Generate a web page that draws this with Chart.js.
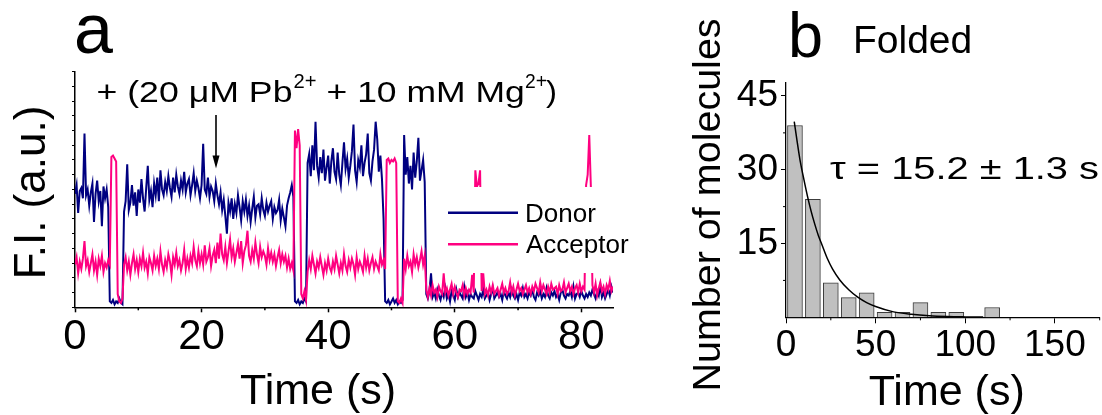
<!DOCTYPE html>
<html><head><meta charset="utf-8">
<script src="https://cdn.jsdelivr.net/npm/chart.js@4"></script>
<style>
html,body{margin:0;padding:0;background:#fff;}
#wrap{position:relative;width:1102px;height:415px;overflow:hidden;background:#fff;}
#ca{position:absolute;left:0;top:0;}
#cb{position:absolute;left:660px;top:0;}
</style></head><body>
<div id="wrap"><canvas id="ca" width="660" height="415"></canvas><canvas id="cb" width="442" height="415"></canvas></div>
<script>
// ---------- Panel a data (time trace, 0.25 s per sample) ----------
const dt = 0.25;
const donor = [
7.7,8.3,6.4,7.9, 8.1,7.4,11.8,7.6, 8.0,6.9,7.8,8.4, 5.8,7.7,8.6,7.2, 7.9,5.5,8.2,7.4,
8.0,6.8,0.4,0.3, 0.5,0.2,0.4,0.3, 0.6,0.3,0.2,6.5, 7.2,9.7,6.6,7.1, 8.3,6.9,7.8,6.2,
8.0,7.1,8.7,7.4, 6.5,8.1,9.6,7.3, 7.9,6.8,8.4,7.6, 8.8,7.2,9.3,8.0, 7.6,8.5,7.9,8.9,
8.1,7.5,8.8,7.8, 9.0,8.2,7.7,8.6, 8.0,9.2,7.8,8.4, 8.7,7.6,8.3,9.1, 7.9,8.6,8.1,7.4,
8.3,11.1,8.0,7.7, 8.8,7.5,8.2,7.9, 7.2,8.4,7.6,7.0, 7.8,6.6,7.3,6.2, 5.0,7.1,6.5,7.4,
6.0,7.0,6.4,7.6, 6.8,5.9,7.2,6.5, 7.3,6.2,6.9,5.8, 6.7,7.5,6.1,6.9, 7.0,6.3,7.4,6.6,
6.2,7.1,6.5,6.9, 7.2,6.0,6.8,6.4, 6.6,7.3,5.9,6.7, 6.1,5.5,6.9,7.4, 7.8,8.3,7.5,0.4,
0.3,0.5,0.2,0.4, 0.3,0.6,0.4,9.8, 10.4,8.9,11.0,9.3, 12.6,9.6,8.8,10.2, 9.1,10.7,8.6,9.5,
10.3,8.4,9.9,10.8, 9.2,8.7,10.5,9.0, 8.3,9.8,11.2,9.4, 10.1,8.8,9.6,10.6, 12.4,9.3,8.5,10.0,
9.5,11.0,8.9,9.8, 10.4,11.8,9.1,8.6, 9.9,10.7,12.6,11.4, 9.2,10.3,8.7,6.0, 0.4,0.3,0.5,0.2,
0.4,0.6,0.3,0.5, 0.2,0.4,0.3,0.5, 11.7,9.0,10.2,8.4, 9.6,8.0,10.5,8.8, 9.9,11.5,8.6,9.3,
10.0,8.5,0.9,0.6, 1.1,2.3,0.7,1.0, 0.6,1.2,0.8,0.5, 1.0,0.7,1.3,0.6, 0.9,0.4,1.1,0.8,
0.5,1.2,0.7,1.0, 0.8,0.6,1.4,0.7, 1.0,0.5,0.9,0.7, 0.6,1.1,0.8,0.5, 0.9,0.7,1.2,0.6,
0.8,1.0,0.5,0.9, 1.3,0.6,0.8,1.0, 0.7,0.9,0.5,1.1, 0.8,0.6,1.0,0.7, 1.2,0.8,0.6,0.9,
0.5,1.0,0.8,1.3, 0.7,0.9,0.6,1.0, 0.8,1.2,0.7,0.5, 1.0,0.8,1.1,0.6, 0.9,0.7,1.3,0.8,
0.6,1.0,0.8,1.1, 0.7,0.9,0.5,1.0, 1.2,0.8,0.6,0.9, 0.8,1.1,0.7,1.4, 0.6,0.9,1.0,0.7,
1.1,0.8,0.6,0.9, 0.7,1.0,0.8,1.2, 0.9,0.6,1.1,0.8, 1.5,0.7,1.0,0.6, 0.9,1.2,0.8,1.4,
1.0];
const acceptor = [
2.9,3.4,2.3,3.1, 2.6,3.3,4.5,2.8, 3.2,2.4,3.0,3.6, 2.5,3.1,2.2,3.3, 2.8,3.5,2.4,3.0,
2.7,3.2,2.9,10.2, 10.3,10.1,9.9,0.9, 0.4,0.3,0.6,2.9, 3.4,2.5,3.1,2.2, 3.0,3.6,2.6,3.2,
2.4,3.3,2.8,3.7, 2.7,3.1,2.3,3.4, 3.0,2.5,3.5,2.8, 3.3,2.6,3.8,2.9, 2.4,3.2,2.7,3.6,
3.1,2.2,3.4,2.9, 3.7,2.8,3.2,2.5, 3.0,3.9,2.6,3.3, 2.7,3.5,3.0,4.1, 3.2,2.8,3.8,3.0,
3.6,2.9,4.2,3.1, 3.4,4.0,2.8,3.5, 3.9,3.0,4.4,3.3, 5.0,3.6,3.2,4.1, 3.0,3.8,4.6,3.4,
4.0,3.1,3.7,4.3, 3.3,4.5,3.0,3.8, 4.2,5.2,3.5,3.1, 3.9,3.3,4.4,3.6, 3.0,4.1,3.4,3.8,
3.5,2.9,4.0,3.2, 3.7,3.1,3.6,2.8, 3.4,3.9,3.0,3.6, 3.1,3.5,2.7,3.3, 2.6,3.0,2.5,12.0,
10.8,12.1,11.0,0.9, 0.6,1.1,0.5,2.4, 3.2,2.6,3.5,2.9, 2.3,3.1,2.7,3.4, 2.8,2.2,3.0,2.5,
3.3,2.7,2.4,3.1, 2.6,3.5,2.9,2.3, 3.0,2.5,3.6,2.8, 2.4,3.2,2.7,3.3, 2.9,2.2,3.4,2.6,
3.1,2.8,2.4,3.5, 2.7,3.3,2.5,3.0, 3.4,2.6,3.1,2.8, 2.5,3.6,2.9,3.2, 2.6,10.0,10.1,9.8,
10.0,9.9,10.1,9.8, 0.4,0.3,0.6,0.3, 3.3,2.6,3.5,2.8, 3.1,2.4,3.6,2.9, 3.4,2.7,3.2,3.8,
2.9,3.5,1.2,0.7, 1.3,0.8,1.5,1.0, 1.2,0.7,1.4,1.1, 0.9,2.3,1.0,1.3, 0.8,1.2,1.6,0.9,
1.4,1.0,0.7,1.2, 1.1,1.5,0.8,1.3, 0.9,1.2,1.0,2.2, 1.0,9.3,8.2,8.4, 9.3,1.1,2.3,0.9,
1.2,0.8,1.4,1.0, 1.5,0.9,1.1,1.3, 0.8,1.2,1.6,1.0, 1.3,0.9,1.1,1.7, 1.0,1.4,0.8,1.2,
1.6,1.1,1.3,0.9, 1.2,1.5,1.0,1.3, 0.9,1.4,1.1,1.6, 1.3,1.0,1.7,1.1, 1.5,1.2,0.9,1.4,
1.0,1.6,1.2,1.3, 1.4,0.9,1.5,1.1, 1.2,1.7,1.0,1.3, 1.6,1.1,1.4,0.9, 1.3,1.5,1.0,1.6,
1.1,1.4,1.2,8.3, 9.0,11.7,8.2,1.5, 1.0,1.6,0.8,1.3, 1.7,1.1,1.4,0.9, 1.5,1.2,1.8,1.1,
1.4];
const xTicksA = [0, 20, 40, 60, 80];

// ---------- Panel b data (dwell-time histogram + fit) ----------
const binCenters = [5, 15, 25, 35, 45, 55, 65, 75, 85, 95, 105, 115];
const counts     = [39, 24, 7, 4, 5, 1, 1, 3, 1, 1, 0, 2];
const fitT = [4.6, 6, 8, 10, 12, 14, 16, 18, 20, 23, 26, 30, 35, 40, 45, 50, 60, 70, 80, 90, 100, 110];
const fitY = [39.8, 36.3, 31.6, 28.0, 24.6, 21.6, 19.0, 16.7, 14.8, 12.0, 9.8, 7.6, 5.6, 4.1, 3.0, 2.2, 1.1, 0.6, 0.3, 0.15, 0.08, 0.04];
const xTicksB = [0, 50, 100, 150];
const yTicksB = [15, 30, 45];

const FONT = '"Liberation Sans", Arial, Helvetica, sans-serif';

function txt(ctx, s, x, y, size, o) {
  o = o || {};
  ctx.save();
  ctx.font = size + 'px ' + FONT;
  ctx.fillStyle = '#000';
  ctx.textBaseline = 'alphabetic';
  ctx.textAlign = o.align || 'left';
  ctx.translate(x, y);
  if (o.rot) ctx.rotate(o.rot);
  if (o.width) { const w = ctx.measureText(s).width; ctx.scale(o.width / w, 1); }
  ctx.fillText(s, 0, 0);
  ctx.restore();
}
function line(ctx, x1, y1, x2, y2, w, c) {
  ctx.save(); ctx.strokeStyle = c || '#000'; ctx.lineWidth = w;
  ctx.beginPath(); ctx.moveTo(x1, y1); ctx.lineTo(x2, y2); ctx.stroke(); ctx.restore();
}

const decorA = {
  id: 'decorA',
  afterDraw(chart) {
    const ctx = chart.ctx, xs = chart.scales.x, ca = chart.chartArea;
    // opaque legend box hiding the trace behind it
    ctx.save(); ctx.fillStyle = '#fff'; ctx.fillRect(440, 187, 200, 86); ctx.restore();
    line(ctx, 448, 212.7, 518, 212.7, 2.6, '#000080');
    line(ctx, 448, 244.3, 518, 244.3, 2.6, '#ff0080');
    txt(ctx, 'Donor', 525, 222.3, 26);
    txt(ctx, 'Acceptor', 526, 253.3, 26);
    // minor x ticks
    [10, 30, 50, 70].forEach(v => { const p = xs.getPixelForValue(v); line(ctx, p, ca.bottom, p, ca.bottom + 3, 1.5); });
    // panel letter
    txt(ctx, 'a', 74, 53, 70);
    // annotation
    txt(ctx, '+ (20 \u03bcM Pb', 96.5, 101.7, 30, {width: 196});
    txt(ctx, '2+', 293.5, 88, 20, {width: 23});
    txt(ctx, ' + 10 mM Mg', 316.7, 101.7, 30, {width: 208});
    txt(ctx, '2+', 525, 88, 20, {width: 22});
    txt(ctx, ')', 546, 101.7, 30, {width: 11});
    // arrow
    line(ctx, 216, 115, 216, 158, 1.6);
    ctx.save(); ctx.fillStyle = '#000'; ctx.beginPath();
    ctx.moveTo(216, 168.5); ctx.lineTo(212.5, 155.5); ctx.lineTo(219.5, 155.5); ctx.closePath(); ctx.fill(); ctx.restore();
    // axis titles
    txt(ctx, 'F.I. (a.u.)', 45, 192.5, 44, {align: 'center', rot: -Math.PI / 2});
    txt(ctx, 'Time (s)', 318, 404, 43, {align: 'center'});
  }
};

new Chart(document.getElementById('ca'), {
  type: 'line',
  data: { datasets: [
    { label: 'Acceptor', data: acceptor.map((v, i) => ({x: i * dt, y: v})), borderColor: '#ff0080',
      borderWidth: 2, pointRadius: 0, tension: 0, order: 0 },
    { label: 'Donor', data: donor.map((v, i) => ({x: i * dt, y: v})), borderColor: '#000080',
      borderWidth: 2, pointRadius: 0, tension: 0, order: 1 }
  ]},
  options: {
    responsive: false, animation: false, devicePixelRatio: 1,
    events: [],
    layout: { padding: { left: 65, right: 47, top: 71.6, bottom: 47.7 } },
    plugins: { legend: { display: false }, tooltip: { enabled: false } },
    scales: {
      x: { type: 'linear', min: 0, max: 85,
        afterFit: s => { s.height = 60; },
        afterBuildTicks: s => { s.ticks = xTicksA.map(v => ({value: v})); },
        ticks: { autoSkip: false, maxRotation: 0, color: '#000', padding: 0, font: { family: FONT, size: 42 } },
        grid: { drawOnChartArea: false, drawTicks: true, tickLength: 5, tickWidth: 1.5, tickColor: '#000' },
        border: { display: true, color: '#000', width: 1.5 } },
      y: { type: 'linear', min: 0, max: 16,
        afterFit: s => { s.width = 10; },
        ticks: { stepSize: 1, display: false },
        grid: { drawOnChartArea: false, drawTicks: true, tickLength: 3, tickWidth: 1, tickColor: '#000' },
        border: { display: true, color: '#000', width: 1.5 } }
    }
  },
  plugins: [decorA]
});

const decorB = {
  id: 'decorB',
  afterDraw(chart) {
    const ctx = chart.ctx, xs = chart.scales.x, ys = chart.scales.y, ca = chart.chartArea;
    [25, 75, 125, 175].forEach(v => { const p = xs.getPixelForValue(v); line(ctx, p, ca.bottom, p, ca.bottom + 3, 1); });
    [7.5, 22.5, 37.5].forEach(v => { const p = ys.getPixelForValue(v); line(ctx, ca.left - 3, p, ca.left, p, 1); });
    txt(ctx, 'b', 128, 57, 63);
    txt(ctx, 'Folded', 193, 53, 39);
    txt(ctx, '\u03c4 = 15.2 \u00b1 1.3 s', 170, 179, 32, {width: 269});
    txt(ctx, 'Number of molecules', 60, 205, 39.5, {align: 'center', rot: -Math.PI / 2});
    txt(ctx, 'Time (s)', 286.7, 405, 43, {align: 'center'});
  }
};

new Chart(document.getElementById('cb'), {
  type: 'bar',
  data: { datasets: [
    { type: 'line', label: 'fit', data: fitT.map((t, i) => ({x: t, y: fitY[i]})), borderColor: '#000',
      borderWidth: 1.5, pointRadius: 0, cubicInterpolationMode: 'monotone', order: 0 },
    { type: 'bar', label: 'count', data: binCenters.map((c, i) => ({x: c, y: counts[i]})),
      backgroundColor: '#c0c0c0', borderColor: '#3c3c3c', borderWidth: 1, barThickness: 15, order: 1 }
  ]},
  options: {
    responsive: false, animation: false, devicePixelRatio: 1,
    events: [],
    layout: { padding: { left: 56, right: 2.3, top: 82.7, bottom: 37.7 } },
    plugins: { legend: { display: false }, tooltip: { enabled: false } },
    scales: {
      x: { type: 'linear', min: 0, max: 175, offset: false,
        afterFit: s => { s.height = 60; },
        afterBuildTicks: s => { s.ticks = xTicksB.map(v => ({value: v})); },
        ticks: { autoSkip: false, maxRotation: 0, color: '#000', padding: 0, font: { family: FONT, size: 37 } },
        grid: { offset: false, drawOnChartArea: false, drawTicks: true, tickLength: 6, tickWidth: 1, tickColor: '#000' },
        border: { display: true, color: '#000', width: 1.3 } },
      y: { type: 'linear', min: 0, max: 47.7,
        afterFit: s => { s.width = 70; },
        afterBuildTicks: s => { s.ticks = yTicksB.map(v => ({value: v})); },
        ticks: { color: '#000', padding: 3, font: { family: FONT, size: 37 } },
        grid: { drawOnChartArea: false, drawTicks: true, tickLength: 5, tickWidth: 1, tickColor: '#000' },
        border: { display: true, color: '#000', width: 1.3 } }
    }
  },
  plugins: [decorB]
});
</script>
</body></html>
